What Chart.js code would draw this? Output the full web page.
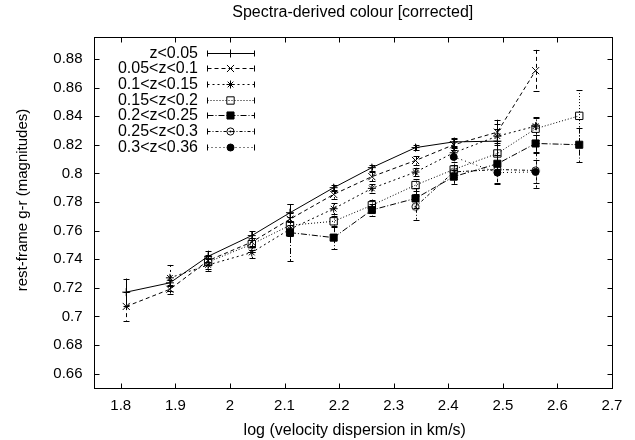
<!DOCTYPE html>
<html>
<head>
<meta charset="utf-8">
<script src="https://cdn.jsdelivr.net/npm/chart.js@4.4.1/dist/chart.umd.min.js"></script>
<style>
  html, body { margin: 0; padding: 0; background: #fff; }
  #wrap { width: 635px; height: 440px; }
</style>
</head>
<body>
<div id="wrap"><canvas id="chart" width="635" height="440"></canvas></div>
<script>
// bins in log(sigma), one colour value per redshift slice (null = no galaxies)
const logSigma = [1.81, 1.89, 1.96, 2.04, 2.11, 2.19, 2.26, 2.34, 2.41, 2.49, 2.56, 2.64];
const zBins = ["z<0.05", "0.05<z<0.1", "0.1<z<0.15", "0.15<z<0.2", "0.2<z<0.25", "0.25<z<0.3", "0.3<z<0.36"];

const gr_z1 = [0.717, 0.7235, 0.742, 0.7565, 0.7725, 0.790, 0.804, 0.818, 0.822, 0.8225, null, null];
const gr_z2 = [0.707, 0.719, 0.739, 0.752, 0.768, 0.7853, 0.7977, 0.809, 0.820, 0.8288, 0.8718, null];
const gr_z3 = [null, 0.727, 0.736, 0.7447, 0.761, 0.7753, 0.7895, 0.8009, 0.8144, 0.826, 0.833, null];
const gr_z4 = [null, null, 0.738, 0.7505, 0.7637, 0.7665, 0.7777, 0.7918, 0.8027, 0.8139, 0.8312, 0.8402];
const gr_z5 = [null, null, null, null, 0.7586, 0.7551, 0.7744, 0.7825, 0.7977, 0.8067, 0.8209, 0.820];
const gr_z6 = [null, null, null, null, null, null, null, 0.7767, 0.801, 0.8027, 0.802, null];
const gr_z7 = [null, null, null, null, null, null, null, null, 0.8115, 0.8005, 0.801, null];

const err_z1 = [0.0095, 0.002, 0.004, 0.003, 0.006, 0.002, 0.002, 0.002, 0.003, 0.015, null, null];
const err_z2 = [0.010, 0.003, 0.003, 0.003, 0.004, 0.003, 0.003, 0.003, 0.004, 0.006, 0.0145, null];
const err_z3 = [null, 0.009, 0.004, 0.004, 0.005, 0.004, 0.003, 0.003, 0.004, 0.005, 0.006, null];
const err_z4 = [null, null, 0.005, 0.004, 0.006, 0.004, 0.004, 0.004, 0.005, 0.006, 0.008, 0.018];
const err_z5 = [null, null, null, null, 0.020, 0.008, 0.004, 0.007, 0.005, 0.006, 0.006, 0.012];
const err_z6 = [null, null, null, null, null, null, null, 0.009, 0.005, 0.010, 0.012, null];
const err_z7 = [null, null, null, null, null, null, null, null, 0.006, 0.007, 0.008, null];

const xTicks = [1.8, 1.9, 2.0, 2.1, 2.2, 2.3, 2.4, 2.5, 2.6, 2.7];
const yTicks = [0.66, 0.68, 0.70, 0.72, 0.74, 0.76, 0.78, 0.80, 0.82, 0.84, 0.86, 0.88];

const series = [gr_z1, gr_z2, gr_z3, gr_z4, gr_z5, gr_z6, gr_z7];
const errs = [err_z1, err_z2, err_z3, err_z4, err_z5, err_z6, err_z7];

// open circle with a dot, gnuplot point type 6-ish
const dotCircle = document.createElement("canvas");
dotCircle.width = dotCircle.height = 11;
const dc = dotCircle.getContext("2d");
dc.strokeStyle = "#000"; dc.lineWidth = 1;
dc.beginPath(); dc.arc(5.5, 5.5, 3.6, 0, 2 * Math.PI); dc.stroke();
dc.fillStyle = "#000";
dc.beginPath(); dc.arc(5.5, 5.5, 1.1, 0, 2 * Math.PI); dc.fill();

const looks = [
    { dash: [], style: "cross", r: 4, fill: false },
    { dash: [4, 3], style: "crossRot", r: 5, fill: false },
    { dash: [2, 3], style: "star", r: 4, fill: false },
    { dash: [1, 2], style: "rect", r: 5.2, fill: false },
    { dash: [6, 2, 1, 2], style: "rect", r: 5, fill: true },
    { dash: [3, 2, 1, 2], style: dotCircle, r: 4, fill: false },
    { dash: [1, 3], style: "circle", r: 3.5, fill: true }
];

const datasets = zBins.map((label, i) => {
    const pts = [], e = [];
    logSigma.forEach((x, j) => {
        if (series[i][j] != null) { pts.push({ x: x, y: series[i][j] }); e.push(errs[i][j]); }
    });
    return {
        label: label, data: pts, errors: e,
        showLine: true, tension: 0,
        borderColor: "#000", borderWidth: 1, borderDash: looks[i].dash,
        pointStyle: looks[i].style, pointRadius: looks[i].r,
        pointBackgroundColor: looks[i].fill ? "#000" : "rgba(0,0,0,0)",
        pointBorderColor: "#000", pointBorderWidth: 1
    };
});

const FONT = "'Liberation Sans', Arial, Helvetica, sans-serif";

const gnuplotLook = {
    id: "gnuplotLook",
    beforeDatasetsDraw(chart) {
        const ctx = chart.ctx, ys = chart.scales.y, a = chart.chartArea;
        ctx.save();
        ctx.beginPath(); ctx.rect(a.left, a.top, a.right - a.left, a.bottom - a.top); ctx.clip();
        ctx.strokeStyle = "#000"; ctx.lineWidth = 1;
        chart.data.datasets.forEach((ds, i) => {
            chart.getDatasetMeta(i).data.forEach((pt, j) => {
                const v = ds.data[j].y, e = ds.errors[j];
                const top = ys.getPixelForValue(v + e), bot = ys.getPixelForValue(v - e);
                const x = Math.round(pt.x) + 0.5;
                ctx.setLineDash(ds.borderDash);
                ctx.beginPath(); ctx.moveTo(x, top); ctx.lineTo(x, bot); ctx.stroke();
                ctx.setLineDash([]);
                ctx.beginPath();
                ctx.moveTo(x - 3, Math.round(top) + 0.5); ctx.lineTo(x + 3, Math.round(top) + 0.5);
                ctx.moveTo(x - 3, Math.round(bot) + 0.5); ctx.lineTo(x + 3, Math.round(bot) + 0.5);
                ctx.stroke();
            });
        });
        ctx.restore();
    },
    afterDraw(chart) {
        const ctx = chart.ctx, a = chart.chartArea, xs = chart.scales.x, ys = chart.scales.y;
        const L = Math.round(a.left) + 0.5, R = Math.round(a.right) + 0.5;
        const T = Math.round(a.top) + 0.5, B = Math.round(a.bottom) + 0.5;
        ctx.save();
        ctx.strokeStyle = "#000"; ctx.lineWidth = 1; ctx.setLineDash([]);
        ctx.strokeRect(L, T, R - L, B - T);
        // inward ticks on all four sides
        ctx.beginPath();
        xTicks.forEach(v => {
            const px = Math.round(xs.getPixelForValue(v)) + 0.5;
            ctx.moveTo(px, B); ctx.lineTo(px, B - 5);
            ctx.moveTo(px, T); ctx.lineTo(px, T + 5);
        });
        yTicks.forEach(v => {
            const py = Math.round(ys.getPixelForValue(v)) + 0.5;
            ctx.moveTo(L, py); ctx.lineTo(L + 5, py);
            ctx.moveTo(R, py); ctx.lineTo(R - 5, py);
        });
        ctx.stroke();

        ctx.fillStyle = "#000";
        ctx.textBaseline = "middle";
        ctx.textAlign = "center";
        ctx.font = "16px " + FONT;
        ctx.fillText("Spectra-derived colour [corrected]", (a.left + a.right) / 2, 13);
        ctx.fillText("log (velocity dispersion in km/s)", (a.left + a.right) / 2 + 2, 431);
        ctx.save();
        ctx.translate(23, 200);
        ctx.rotate(-Math.PI / 2);
        ctx.font = "15px " + FONT;
        ctx.fillText("rest-frame g-r (magnitudes)", 0, 0);
        ctx.restore();

        // key, top left inside the frame
        chart.data.datasets.forEach((ds, i) => {
            const y = Math.round(52.7 + 15.67 * i) + 0.5;
            ctx.font = "16px " + FONT;
            ctx.textAlign = "right";
            ctx.fillStyle = "#000";
            ctx.fillText(ds.label, 198, y);
            ctx.setLineDash(ds.borderDash);
            ctx.beginPath(); ctx.moveTo(207.5, y); ctx.lineTo(254.5, y); ctx.stroke();
            ctx.setLineDash([]);
            ctx.beginPath();
            ctx.moveTo(207.5, y - 3); ctx.lineTo(207.5, y + 3);
            ctx.moveTo(254.5, y - 3); ctx.lineTo(254.5, y + 3);
            ctx.stroke();
            ctx.fillStyle = ds.pointBackgroundColor;
            Chart.helpers.drawPoint(ctx, { pointStyle: ds.pointStyle, radius: ds.pointRadius, rotation: 0, borderWidth: 1 }, 230.5, y);
        });
        ctx.restore();
    }
};

new Chart(document.getElementById("chart"), {
    type: "scatter",
    data: { datasets: datasets },
    options: {
        responsive: false,
        animation: false,
        layout: { padding: { top: 37, right: 23, left: 0, bottom: 0 } },
        plugins: { legend: { display: false }, tooltip: { enabled: false }, title: { display: false } },
        scales: {
            x: {
                type: "linear", min: 1.75, max: 2.7,
                afterBuildTicks: axis => { axis.ticks = xTicks.map(v => ({ value: v })); },
                afterFit: s => { s.height = 52; },
                grid: { display: false, drawTicks: false },
                border: { display: false },
                ticks: {
                    autoSkip: false, maxRotation: 0, padding: 9, color: "#000",
                    font: { family: FONT, size: 15 },
                    callback: v => String(Math.round(v * 100) / 100)
                }
            },
            y: {
                type: "linear", min: 0.65, max: 0.8953,
                afterBuildTicks: axis => { axis.ticks = yTicks.map(v => ({ value: v })); },
                afterFit: s => { s.width = 93.5; },
                grid: { display: false, drawTicks: false },
                border: { display: false },
                ticks: {
                    autoSkip: false, padding: 11, color: "#000",
                    font: { family: FONT, size: 15 },
                    callback: v => String(Math.round(v * 100) / 100)
                }
            }
        }
    },
    plugins: [gnuplotLook]
});
</script>
</body>
</html>
